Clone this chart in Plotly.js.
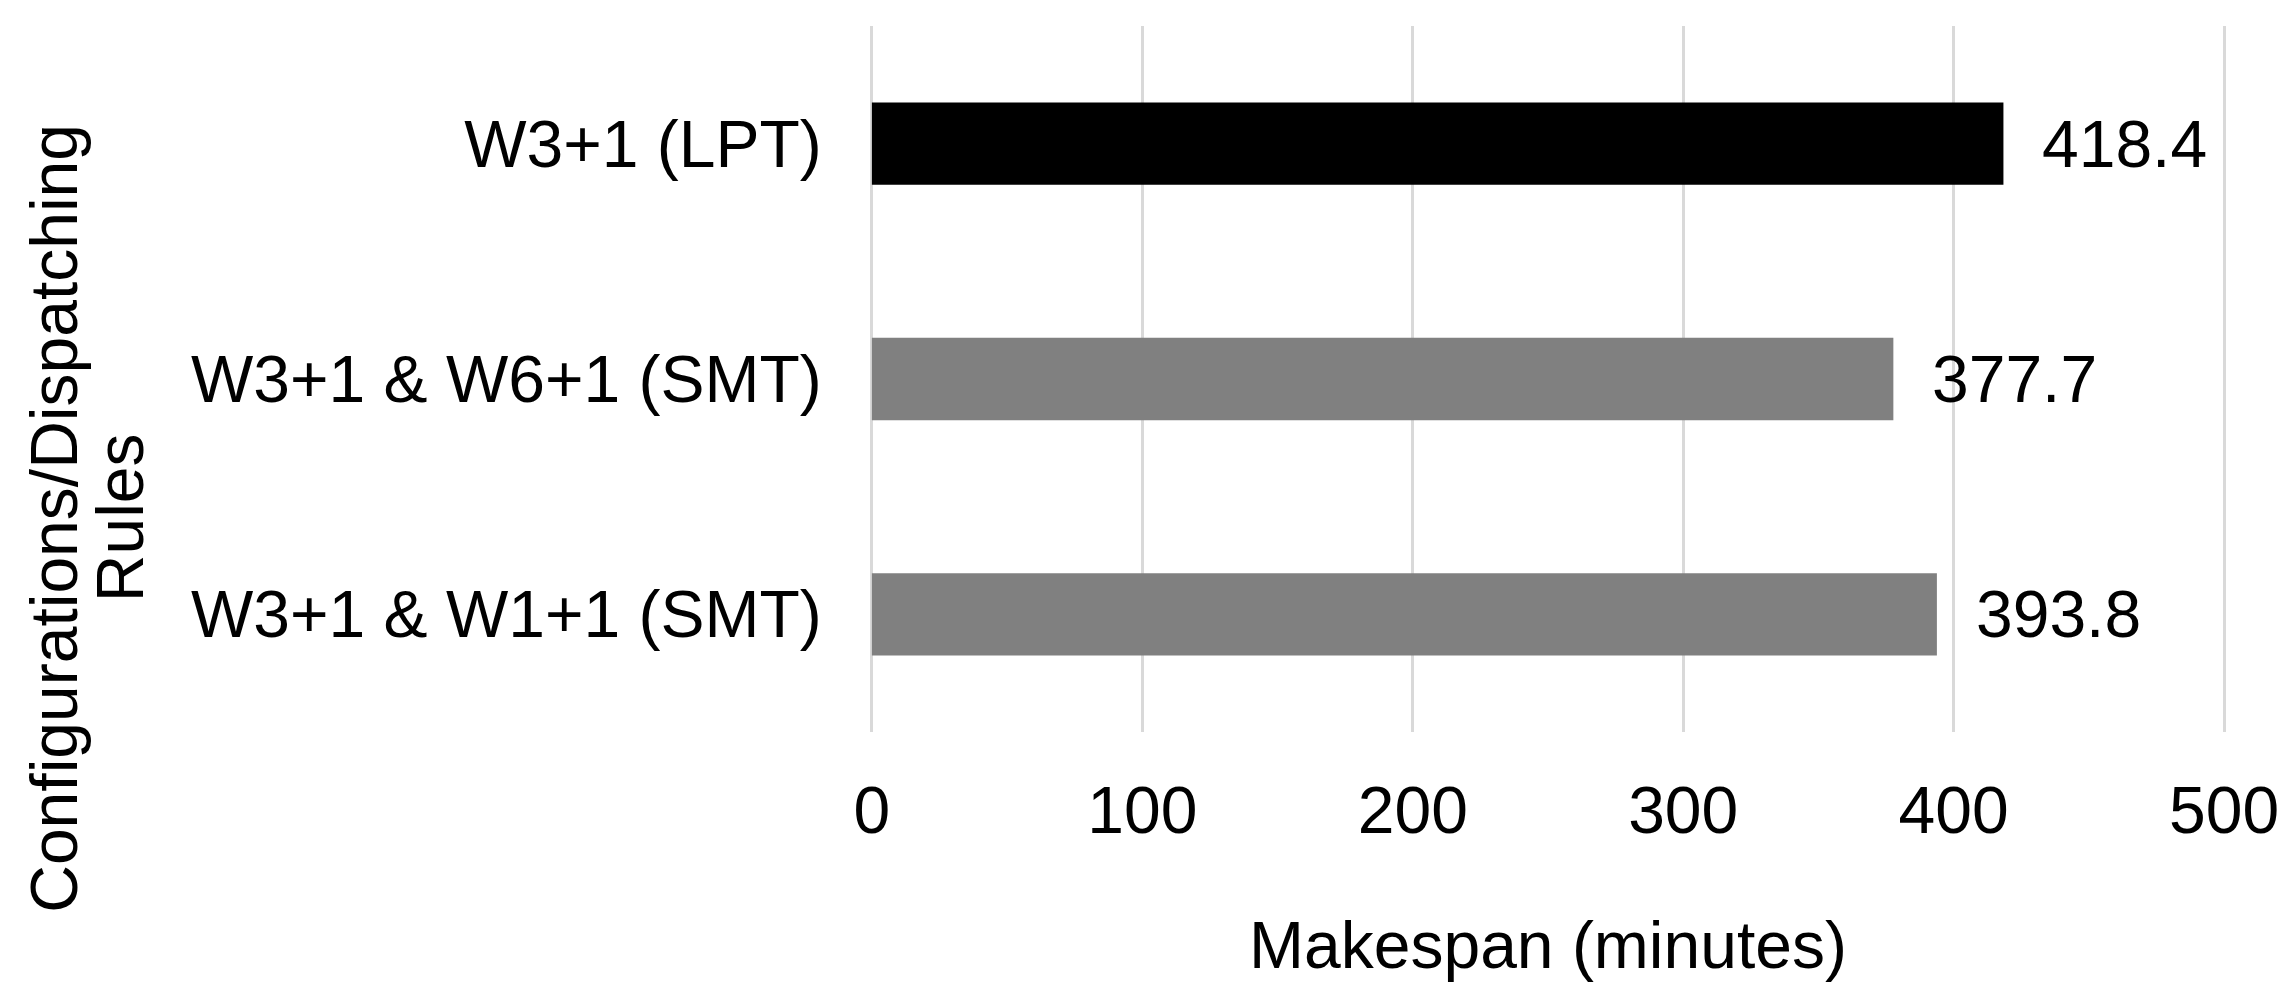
<!DOCTYPE html>
<html>
<head>
<meta charset="utf-8">
<script src="https://cdn.plot.ly/plotly-3.0.1.min.js"></script>
<style>
  html, body { margin: 0; padding: 0; background: #ffffff; }
  #chart { width: 2291px; height: 1004px; }
</style>
</head>
<body>
<div id="chart"></div>
<script>
// categories listed bottom -> top (plotly puts the first category at the bottom)
const categories = ['W3+1 & W1+1 (SMT)', 'W3+1 & W6+1 (SMT)', 'W3+1 (LPT)'];
const makespan = [393.8, 377.7, 418.4];
const barColors = ['#808080', '#808080', '#000000'];
const xTicks = [0, 100, 200, 300, 400, 500];

const FONT = 'Liberation Sans, Arial, sans-serif';

const trace = {
  type: 'bar',
  orientation: 'h',
  x: makespan,
  y: categories,
  marker: { color: barColors, line: { width: 0 } },
  hoverinfo: 'x+y'
};

// value labels sit a fixed distance right of each bar end
const valueLabels = makespan.map((v, i) => ({
  x: v,
  y: categories[i],
  xref: 'x',
  yref: 'y',
  text: v.toFixed(1),
  showarrow: false,
  xanchor: 'left',
  yanchor: 'middle',
  xshift: 37,
  font: { family: FONT, size: 66, color: '#000000' }
}));

// y title is two lines and sits lower than the plot centre, so place it by hand
const yTitle = [
  { text: 'Configurations/Dispatching', x: -0.602, y: 0.303 },
  { text: 'Rules', x: -0.553, y: 0.303 }
].map(t => ({
  text: t.text,
  x: t.x,
  y: t.y,
  xref: 'paper',
  yref: 'paper',
  showarrow: false,
  textangle: -90,
  xanchor: 'center',
  yanchor: 'middle',
  font: { family: FONT, size: 66, color: '#000000' }
}));

const layout = {
  width: 2291,
  height: 1004,
  margin: { l: 870, r: 65, t: 26, b: 272 },
  paper_bgcolor: '#ffffff',
  plot_bgcolor: '#ffffff',
  showlegend: false,
  bargap: 0.65,
  font: { family: FONT, size: 66, color: '#000000' },
  xaxis: {
    // padded a hair so the 0 and 500 gridlines are not clipped at the edges
    range: [-0.7, 500.7],
    tickvals: xTicks,
    ticktext: xTicks.map(String),
    showgrid: true,
    gridcolor: '#d9d9d9',
    gridwidth: 3,
    zeroline: false,
    showline: false,
    ticks: 'outside',
    ticklen: 21,
    tickcolor: 'rgba(0,0,0,0)',
    tickfont: { family: FONT, size: 66, color: '#000000' },
    title: {
      text: 'Makespan (minutes)',
      standoff: 75,
      font: { family: FONT, size: 66, color: '#000000' }
    },
    automargin: false,
    fixedrange: true
  },
  yaxis: {
    type: 'category',
    categoryorder: 'array',
    categoryarray: categories,
    showgrid: false,
    zeroline: false,
    showline: false,
    ticks: 'outside',
    ticklen: 34,
    tickcolor: 'rgba(0,0,0,0)',
    tickfont: { family: FONT, size: 66, color: '#000000' },
    automargin: false,
    fixedrange: true
  },
  annotations: valueLabels.concat(yTitle)
};

Plotly.newPlot('chart', [trace], layout, { displayModeBar: false, staticPlot: true });
</script>
</body>
</html>
